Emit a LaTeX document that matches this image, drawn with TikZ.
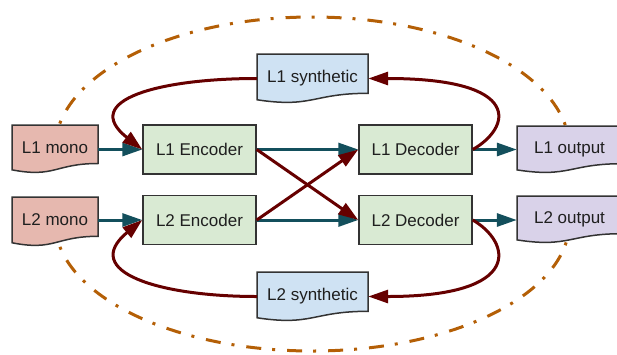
\documentclass[tikz,border=0pt]{standalone}
\usepackage{fontspec}
\setmainfont{Liberation Sans}
\usetikzlibrary{arrows.meta,backgrounds}
\definecolor{monofill}{HTML}{E6B8AF}
\definecolor{procfill}{HTML}{D9EAD3}
\definecolor{synfill}{HTML}{CFE2F3}
\definecolor{outfill}{HTML}{D9D2E9}
\definecolor{boxgray}{HTML}{333333}
\definecolor{flowteal}{HTML}{134F5C}
\definecolor{backred}{HTML}{660000}
\definecolor{looporange}{HTML}{B45F06}
\definecolor{txt}{HTML}{1F1F1F}
\tikzset{
  boxline/.style={draw=boxgray, line width=1.5pt},
  labelfont/.style={font=\fontsize{17}{20}\selectfont, text=txt},
  docnode/.style={labelfont, inner sep=0pt},
  procbox/.style={boxline, fill=procfill, labelfont, minimum width=113pt, minimum height=49pt, inner sep=0pt},
  flow/.style={draw=flowteal, line width=3pt, -{Triangle[length=20pt,width=13pt]}},
  backflow/.style={draw=backred, line width=3pt, -{Triangle[length=20pt,width=13pt]}},
  loopline/.style={draw=looporange, line width=3pt, dash pattern=on 15pt off 11pt on 3pt off 12pt},
}
% #1 name, #2 x0, #3 y0, #4 width, #5 height, #6 fill, #7 text
\newcommand{\docbox}[7]{%
  \path[boxline, fill=#6] (#2,#3) -- ({#2+#4},#3) -- ({#2+#4},{#3+0.802*#5})
    .. controls ({#2+0.5*#4},{#3+0.802*#5}) and ({#2+0.5*#4},{#3+1.107*#5}) .. (#2,{#3+0.934*#5}) -- cycle;
  \node[docnode, minimum width=#4pt, minimum height=#5pt] (#1) at ({#2+0.5*#4},{#3+0.5*#5}) {\raisebox{3pt}{#7}};
}
\begin{document}
\begin{tikzpicture}[x=1pt,y=-1pt]
\useasboundingbox (0,0) rectangle (617,354);
\clip (0,0) rectangle (617,354);

\docbox{m1}{12}{125}{86}{48}{monofill}{L1 mono}
\docbox{m2}{12}{197}{86}{49}{monofill}{L2 mono}
\docbox{s1}{257}{54}{111}{49}{synfill}{L1 synthetic}
\docbox{s2}{257}{272}{111}{49}{synfill}{L2 synthetic}
\docbox{o1}{517}{126}{105}{47}{outfill}{L1 output}
\docbox{o2}{517}{196}{105}{47}{outfill}{L2 output}

\node[procbox] (e1) at (199.5,149.5) {L1 Encoder};
\node[procbox] (e2) at (199.5,220) {L2 Encoder};
\node[procbox] (d1) at (415.5,149.5) {L1 Decoder};
\node[procbox] (d2) at (415.5,220) {L2 Decoder};

\begin{scope}[on background layer]
  \draw[loopline] (m1.center) arc[start angle=180, end angle=0, x radius=257.25pt, y radius=132pt];
  \draw[loopline] (m2.center) arc[start angle=180, end angle=360, x radius=257.25pt, y radius=129.5pt];
\end{scope}

\draw[flow] (m1.east |- e1.west) -- (e1.west);
\draw[flow] (m2.east |- e2.west) -- (e2.west);
\draw[flow] (e1.east) -- (d1.west);
\draw[flow] (e2.east) -- (d2.west);
\draw[flow] (d1.east) -- (d1.east -| o1.west);
\draw[flow] (d2.east) -- (d2.east -| o2.west);

\draw[backflow] (e1.east) -- (d2.west);
\draw[backflow] (e2.east) -- (d1.west);
\draw[backflow] (d1.east) .. controls +(38,-21.5) and +(157,0) .. (s1.east);
\draw[backflow] (s1.west) .. controls +(-97,0) and +(-63,-49.5) .. (e1.west);
\draw[backflow] (d2.east) .. controls +(38,22) and +(157,0) .. (s2.east);
\draw[backflow] (s2.west) .. controls +(-97,0) and +(-63,52) .. (e2.west);
\end{tikzpicture}
\end{document}
